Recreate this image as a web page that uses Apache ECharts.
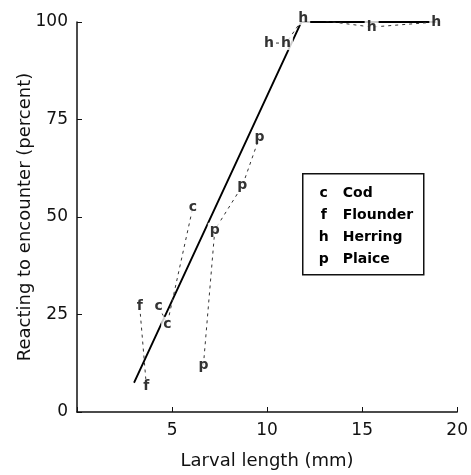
<!DOCTYPE html>
<html>
<head>
    <meta charset="UTF-8">
    <title>Reacting to encounter vs larval length</title>
    <script src="https://cdn.jsdelivr.net/npm/echarts@6/dist/echarts.min.js"></script>
    <style>
        html, body { margin: 0; padding: 0; background: #fff; }
        #chart { width: 471px; height: 475px; }
    </style>
</head>
<body>
    <div id="chart"></div>
    <script>
        // data: [length mm, percent reacting]
        const codPoints = [[4.3, 27], [4.75, 22.6], [6.1, 52.6]];
        const flounderPoints = [[3.3, 27], [3.65, 6.7]];
        const herringPoints = [[10.1, 94.6], [11.0, 94.6], [11.9, 101], [15.5, 98.7], [18.9, 100]];
        const plaicePoints = [[6.65, 12], [7.25, 46.7], [8.7, 58], [9.6, 70.5]];
        // fitted line (solid)
        const fitLine = [[3, 7.5], [11.8, 100], [18.9, 100]];

        const speciesLetters = ['c', 'f', 'h', 'p'];
        const speciesNames = ['Cod', 'Flounder', 'Herring', 'Plaice'];
        const speciesData = [codPoints, flounderPoints, herringPoints, plaicePoints];

        const xTicks = [0, 5, 10, 15, 20];
        const yTicks = [0, 25, 50, 75, 100];

        const FONT = 'DejaVu Sans';
        const chart = echarts.init(document.getElementById('chart'));

        const series = [{
            type: 'line',
            data: fitLine,
            symbol: 'none',
            lineStyle: { color: '#000', width: 1.8 },
            z: 2,
            silent: true
        }];

        speciesData.forEach((pts, i) => {
            // dashed link between the points of one species
            series.push({
                type: 'line',
                data: pts,
                symbol: 'none',
                lineStyle: { color: '#333', width: 1, type: [3, 4] },
                z: 3,
                silent: true
            });
            // the letters themselves
            series.push({
                type: 'scatter',
                data: pts,
                symbol: 'circle',
                symbolSize: 1,
                clip: false,
                itemStyle: { color: 'rgba(0,0,0,0)' },
                label: {
                    show: true,
                    position: 'inside',
                    formatter: speciesLetters[i],
                    fontFamily: FONT,
                    fontSize: 14,
                    fontWeight: 'bold',
                    color: '#000',
                    backgroundColor: '#fff',
                    padding: [0, 2]
                },
                z: 5,
                silent: true
            });
        });

        // legend box drawn as graphic
        const legendChildren = [{
            type: 'rect',
            shape: { x: 0, y: 0, width: 121, height: 101 },
            style: { fill: '#fff', stroke: '#111', lineWidth: 1.5 }
        }];
        speciesLetters.forEach((l, i) => {
            legendChildren.push({
                type: 'text',
                x: 21, y: 20 + i * 22,
                style: { text: l, font: 'bold 14px "DejaVu Sans"', fill: '#000', align: 'center', verticalAlign: 'middle' }
            });
            legendChildren.push({
                type: 'text',
                x: 40, y: 20 + i * 22,
                style: { text: speciesNames[i], font: 'bold 14px "DejaVu Sans"', fill: '#000', align: 'left', verticalAlign: 'middle' }
            });
        });

        const option = {
            animation: false,
            grid: { left: 77, right: 12, top: 22, bottom: 63 },
            xAxis: {
                type: 'value',
                min: xTicks[0],
                max: xTicks[xTicks.length - 1],
                interval: 5,
                name: 'Larval length (mm)',
                nameLocation: 'middle',
                nameGap: 40,
                nameMoveOverlap: false,
                nameTextStyle: { fontFamily: FONT, fontSize: 18, color: '#111' },
                axisLine: { lineStyle: { color: '#111', width: 1.5 } },
                axisTick: { inside: true, length: 5, lineStyle: { color: '#111' } },
                axisLabel: {
                    fontFamily: FONT, fontSize: 17, color: '#111', margin: 10,
                    formatter: v => (v === 0 ? '' : String(v))
                },
                splitLine: { show: false }
            },
            yAxis: {
                type: 'value',
                min: yTicks[0],
                max: yTicks[yTicks.length - 1],
                interval: 25,
                name: 'Reacting to encounter (percent)',
                nameLocation: 'middle',
                nameGap: 43,
                nameMoveOverlap: false,
                nameTextStyle: { fontFamily: FONT, fontSize: 18, color: '#111' },
                axisLine: { show: true, lineStyle: { color: '#111', width: 1.5 } },
                axisTick: { show: true, inside: true, length: 5, lineStyle: { color: '#111' } },
                axisLabel: { fontFamily: FONT, fontSize: 17, color: '#111', margin: 9 },
                splitLine: { show: false }
            },
            graphic: [{
                type: 'group',
                left: 302,
                top: 173,
                children: legendChildren
            }],
            series: series
        };

        chart.setOption(option);
        window.addEventListener('resize', () => chart.resize());
    </script>
</body>
</html>
